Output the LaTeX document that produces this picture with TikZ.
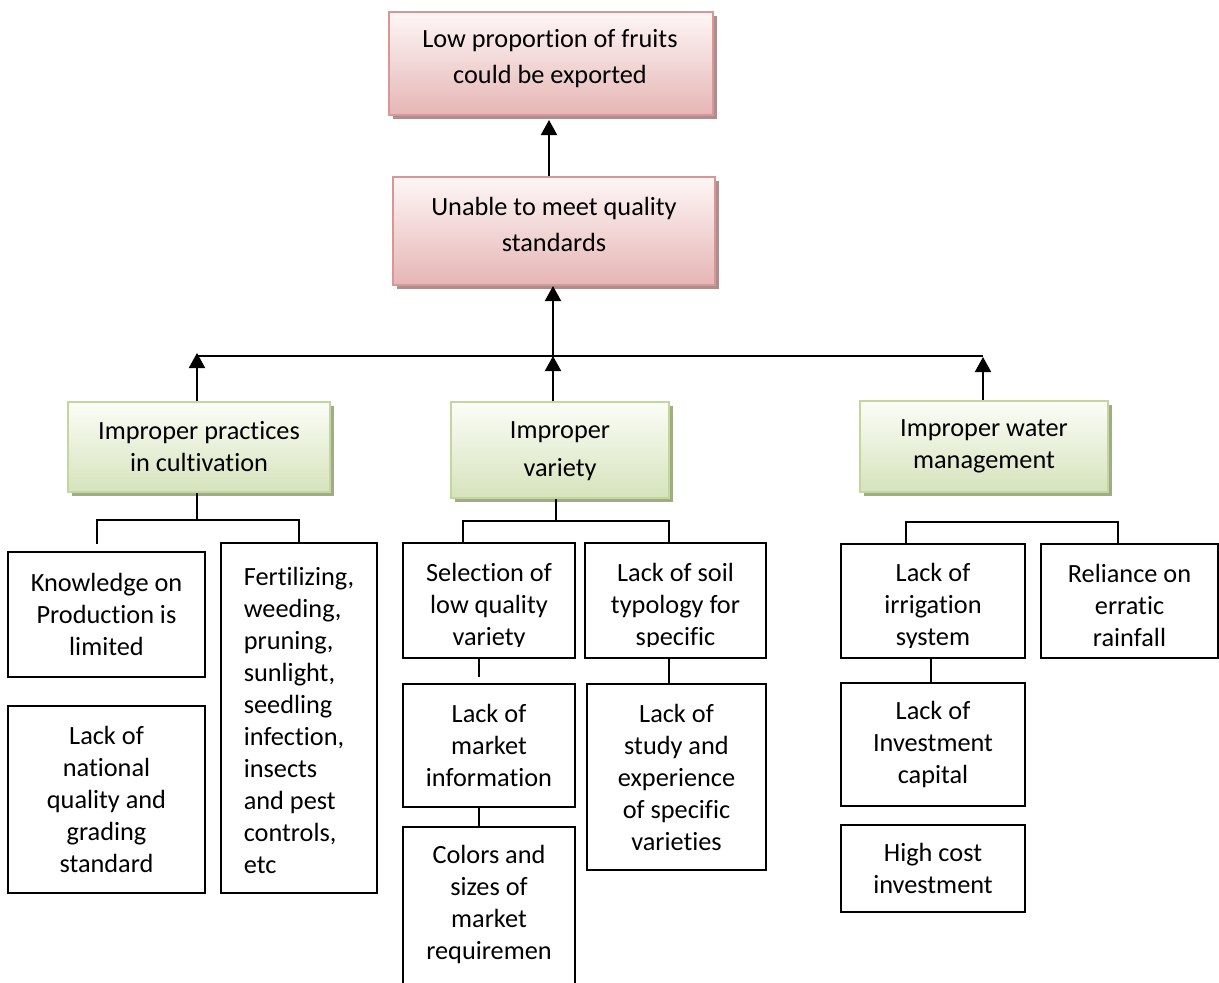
\documentclass[tikz,border=0pt]{standalone}
\usepackage{fontspec}
\setmainfont[Ligatures=NoCommon]{Carlito}
\usetikzlibrary{arrows.meta,shadows}
\definecolor{pinkborder}{RGB}{217,150,148}
\definecolor{pinktop}{RGB}{254,246,246}
\definecolor{pinkbot}{RGB}{229,182,181}
\definecolor{pinkshadow}{RGB}{172,142,142}
\definecolor{greenborder}{RGB}{195,214,155}
\definecolor{greentop}{RGB}{251,253,247}
\definecolor{greenbot}{RGB}{214,227,188}
\definecolor{greenshadow}{RGB}{160,172,130}
\begin{document}
\begin{tikzpicture}[x=1pt,y=-1pt,
  every node/.style={font=\fontsize{26.3}{32}\selectfont, inner sep=0pt, align=center},
  pinkbox/.style={draw=pinkborder, line width=2pt, top color=pinktop, bottom color=pinkbot,
    drop shadow={shadow xshift=4pt, shadow yshift=-4pt, fill=pinkshadow, opacity=1}},
  greenbox/.style={draw=greenborder, line width=2pt, top color=greentop, bottom color=greenbot,
    drop shadow={shadow xshift=4pt, shadow yshift=-4pt, fill=greenshadow, opacity=1}},
  wbox/.style={draw=black, line width=1.8pt, fill=white},
  link/.style={line width=2pt},
  arr/.style={link, -{Triangle[width=16pt,length=15pt]}},
  wide/.style={font=\fontsize{26.3}{36}\selectfont},
  wider/.style={font=\fontsize{26.3}{38}\selectfont}
]
\clip (0,0) rectangle (1219,983);
\fill[white] (0,0) rectangle (1219,983);

% top level
\node[pinkbox, minimum width=324pt, minimum height=103pt] (top) at (551,63.5) {};
\node[wide] (topT) at (550,59) {Low proportion of fruits\\could be exported};
\node[pinkbox, minimum width=322pt, minimum height=108pt] (q) at (554,231) {};
\node[wide] (qT) at (554,224) {Unable to meet quality\\standards};

% green level
\node[greenbox, minimum width=262pt, minimum height=90pt] (g1) at (199,447) {Improper practices\\in cultivation};
\node[greenbox, minimum width=218pt, minimum height=96pt] (g2) at (560,450) {};
\node[wider] (g2T) at (560,451) {Improper\\variety};
\node[greenbox, minimum width=248pt, minimum height=91pt] (g3) at (984,446.5) {Improper water\\management};

% left branch
\node[wbox, minimum width=197pt, minimum height=125pt] (k) at (106.5,614.5) {Knowledge on\\Production is\\limited};
\node[wbox, minimum width=197pt, minimum height=187pt] (nat) at (106.5,799.5) {Lack of\\national\\quality and\\grading\\standard};
\node[wbox, minimum width=156pt, minimum height=350pt] (fert) at (299,718) {};
\node[align=left] (fertT) at (299,720) {Fertilizing,\\weeding,\\pruning,\\sunlight,\\seedling\\infection,\\insects\\and pest\\controls,\\etc};

% middle branch
\node[wbox, minimum width=172pt, minimum height=115pt] (sel) at (489,600.5) {};
\begin{scope}
  \clip (sel.north west) rectangle (575,646);
  \node (selT) at (489,606) {Selection of\\low quality\\variety};
\end{scope}
\node[wbox, minimum width=181pt, minimum height=115pt] (soil) at (675.5,600.5) {};
\begin{scope}
  \clip (soil.north west) rectangle (766,646);
  \node (soilT) at (675.5,606) {Lack of soil\\typology for\\specific};
\end{scope}
\node[wbox, minimum width=172pt, minimum height=123pt] (mkt) at (489,745.5) {Lack of\\market\\information};
\node[wbox, minimum width=172pt, minimum height=183pt] (col) at (489,918.5) {};
\node (colT) at (489,904.5) {Colors and\\sizes of\\market\\requiremen};
\node[wbox, minimum width=179pt, minimum height=186pt] (study) at (676.5,777) {Lack of\\study and\\experience\\of specific\\varieties};

% right branch
\node[wbox, minimum width=184pt, minimum height=114pt] (irr) at (933,601) {};
\begin{scope}
  \clip (irr.north west) rectangle (1025,647);
  \node (irrT) at (933,606) {Lack of\\irrigation\\system};
\end{scope}
\node[wbox, minimum width=177pt, minimum height=114pt] (rel) at (1129.5,601) {};
\node (relT) at (1129.5,605) {Reliance on\\erratic\\rainfall};
\node[wbox, minimum width=184pt, minimum height=123pt] (inv) at (933,744.5) {Lack of\\Investment\\capital};
\node[wbox, minimum width=184pt, minimum height=87pt] (cost) at (933,868.5) {High cost\\investment};

% connectors: upper part
\coordinate (barL) at (197,356);
\coordinate (barM) at (553,356);
\coordinate (barR) at (983,356);
\draw[arr] (q.north -| 549,0) -- ([yshift=-4pt]top.south -| 549,0);
\draw[link] (barL) -- (barR);
\draw[arr] (barM) -- (q.south -| barM);
\draw[arr] (g2.north -| barM) -- (barM);
\draw[arr] (g1.north -| barL) -- ([yshift=3pt]barL);
\draw[arr] (g3.north -| barR) -- ([yshift=-1pt]barR);

% left tree
\coordinate (j1) at (197,520);
\coordinate (k1) at (97,544);
\draw[link] (g1.south -| j1) -- (j1);
\draw[link] (k1) |- (j1 -| fert.north) -- (fert.north);

% middle tree
\coordinate (j2) at (556,521);
\coordinate (s1) at (463,521);
\coordinate (s2) at (669,521);
\draw[link] (g2.south -| j2) -- (j2);
\draw[link] (sel.north -| s1) -- (s1) -- (s2) -- (soil.north -| s2);
\coordinate (m1) at (479,677);
\draw[link] (sel.south -| m1) -- (m1);
\draw[link] (mkt.south -| m1) -- (col.north -| m1);
\draw[link] (soil.south -| s2) -- (study.north -| s2);

% right tree
\coordinate (r1) at (906,522);
\coordinate (r2) at (1118,522);
\draw[link] (irr.north -| r1) -- (r1) -- (r2) -- (rel.north -| r2);
\coordinate (c1) at (931,658);
\draw[link] (irr.south -| c1) -- (inv.north -| c1);
\end{tikzpicture}
\end{document}
